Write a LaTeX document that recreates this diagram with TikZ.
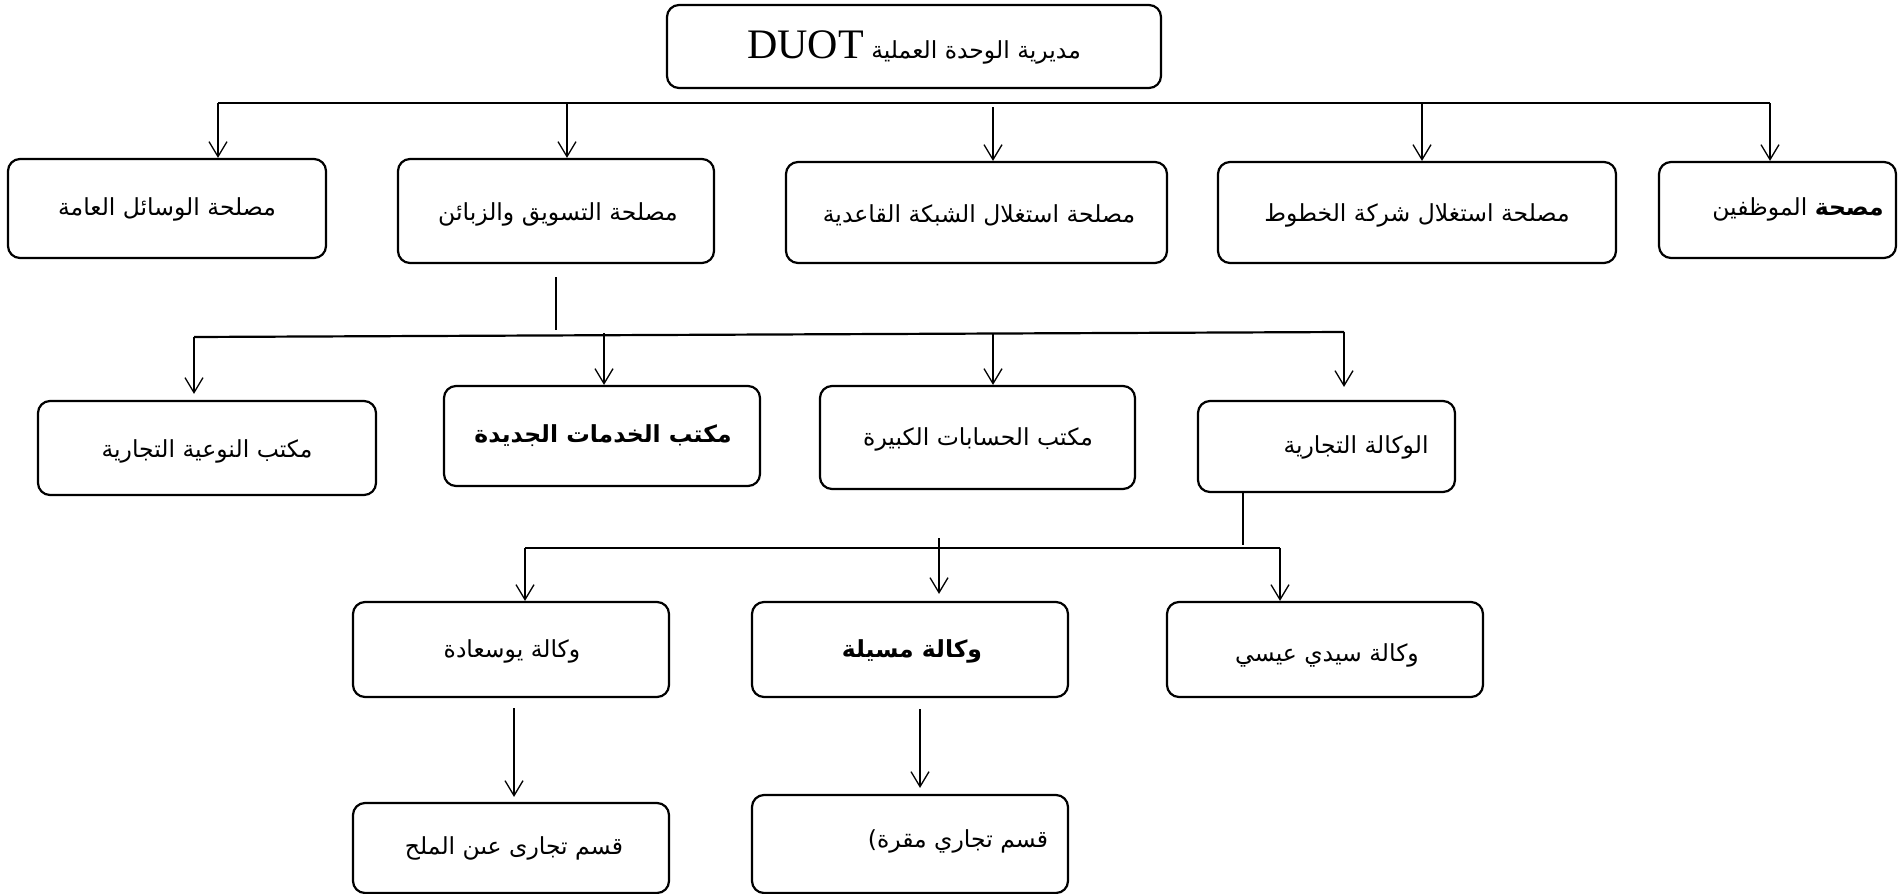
\documentclass[tikz,border=0pt]{standalone}
\usepackage{fontspec}
\setmainfont{Liberation Serif}
\newfontfamily\arabicfont[Script=Arabic]{DejaVu Sans}
\TeXXeTstate=1
\usetikzlibrary{arrows.meta}
\begin{document}
\begin{tikzpicture}[x=1pt,y=-1pt,
 box/.style={draw,line width=2.2pt,rounded corners=12pt,inner sep=0pt},
 lbl/.style={font=\arabicfont\fontsize{23.5}{28}\selectfont,inner sep=0pt},
 blbl/.style={font=\arabicfont\bfseries\fontsize{23.5}{28}\selectfont,inner sep=0pt},
 arr/.style={line width=1.3pt,-{Straight Barb[length=15pt,width=18pt,line width=1.3pt]}},
 bus/.style={line width=2.2pt},
 stub/.style={line width=1.2pt}]
\useasboundingbox (0,0) rectangle (1898,894);
% boxes
\node[box,minimum width=494pt,minimum height=83pt] (top) at (914,46.5) {};
\node[box,minimum width=318pt,minimum height=99pt] (b1) at (167,208.5) {};
\node[box,minimum width=316pt,minimum height=104pt] (b2) at (556,211) {};
\node[box,minimum width=381pt,minimum height=101pt] (b3) at (976.5,212.5) {};
\node[box,minimum width=398pt,minimum height=101pt] (b4) at (1417,212.5) {};
\node[box,minimum width=237pt,minimum height=96pt] (b5) at (1777.5,210) {};
\node[box,minimum width=338pt,minimum height=94pt] (c1) at (207,448) {};
\node[box,minimum width=316pt,minimum height=100pt] (c2) at (602,436) {};
\node[box,minimum width=315pt,minimum height=103pt] (c3) at (977.5,437.5) {};
\node[box,minimum width=257pt,minimum height=91pt] (c4) at (1326.5,446.5) {};
\node[box,minimum width=316pt,minimum height=95pt] (d1) at (511,649.5) {};
\node[box,minimum width=316pt,minimum height=95pt] (d2) at (910,649.5) {};
\node[box,minimum width=316pt,minimum height=95pt] (d3) at (1325,649.5) {};
\node[box,minimum width=316pt,minimum height=90pt] (e1) at (511,848) {};
\node[box,minimum width=316pt,minimum height=98pt] (e2) at (910,844) {};
% texts
\node[lbl] (topt) at (914,47) {\beginR مديرية الوحدة العملية \beginL{\rmfamily\fontsize{42}{42}\selectfont DUOT}\endL\endR};
\node[lbl] (b1t) at (167,209) {\beginR مصلحة الوسائل العامة\endR};
\node[lbl] (b2t) at (558,214) {\beginR مصلحة التسويق والزبائن\endR};
\node[lbl] (b3t) at (979,215) {\beginR مصلحة استغلال الشبكة القاعدية\endR};
\node[lbl] (b4t) at (1417,215) {\beginR مصلحة استغلال شركة الخطوط\endR};
\node[lbl] (b5t) at (1798,209) {\beginR{\bfseries مصحة} الموظفين\endR};
\node[lbl] (c1t) at (207,451) {\beginR مكتب النوعية التجارية\endR};
\node[blbl] (c2t) at (603,436) {\beginR مكتب الخدمات الجديدة\endR};
\node[lbl] (c3t) at (978,439) {\beginR مكتب الحسابات الكبيرة\endR};
\node[lbl] (c4t) at (1356,447) {\beginR الوكالة التجارية\endR};
\node[lbl] (d1t) at (512,651) {\beginR وكالة يوسعادة\endR};
\node[blbl] (d2t) at (912,651) {\beginR وكالة مسيلة\endR};
\node[lbl] (d3t) at (1327,655) {\beginR وكالة سيدي عيسي\endR};
\node[lbl] (e1t) at (514,848) {\beginR قسم تجارى عىن الملح\endR};
\node[lbl] (e2t) at (958,841) {\beginR قسم تجاري مقرة)\endR};
% level 1 connectors
\coordinate (bL) at (218,103);
\coordinate (bR) at (1770,103);
\coordinate (a2) at (567,103);
\coordinate (a3) at (993,107);
\coordinate (a4) at (1422,103);
\draw[bus] (bL) -- (bR);
\draw[arr] (bL) -- (bL |- b1.north);
\draw[arr] (a2) -- (a2 |- b2.north);
\draw[arr] (a3) -- (a3 |- b3.north);
\draw[arr] (a4) -- (a4 |- b4.north);
\draw[arr] (bR) -- (bR |- b5.north);
% level 2 connectors
\coordinate (s1a) at (556,277);
\coordinate (s1b) at (556,330);
\draw[stub] (s1a) -- (s1b);
\coordinate (cL) at (194,337);
\coordinate (cR) at (1344,332);
\coordinate (g2) at (604,333);
\coordinate (g3) at (993,333);
\draw[bus] (cL) -- (cR);
\draw[arr,shorten >=6pt] (cL) -- (cL |- c1.north);
\draw[arr] (g2) -- (g2 |- c2.north);
\draw[arr] (g3) -- (g3 |- c3.north);
\draw[arr,shorten >=13pt] (cR) -- (cR |- c4.north);
% level 3 connectors
\coordinate (s2) at (1243,545);
\draw[stub] (s2 |- c4.south) -- (s2);
\coordinate (dL) at (525,548);
\coordinate (dR) at (1280,548);
\coordinate (h2) at (939,538);
\draw[bus] (dL) -- (dR);
\draw[arr] (dL) -- (dL |- d1.north);
\draw[arr,shorten >=7pt] (h2) -- (h2 |- d2.north);
\draw[arr] (dR) -- (dR |- d3.north);
% level 4 connectors
\coordinate (k1) at (514,708);
\coordinate (k2) at (920,709);
\draw[arr,shorten >=5pt] (k1) -- (k1 |- e1.north);
\draw[arr,shorten >=6pt] (k2) -- (k2 |- e2.north);
\end{tikzpicture}
\end{document}
